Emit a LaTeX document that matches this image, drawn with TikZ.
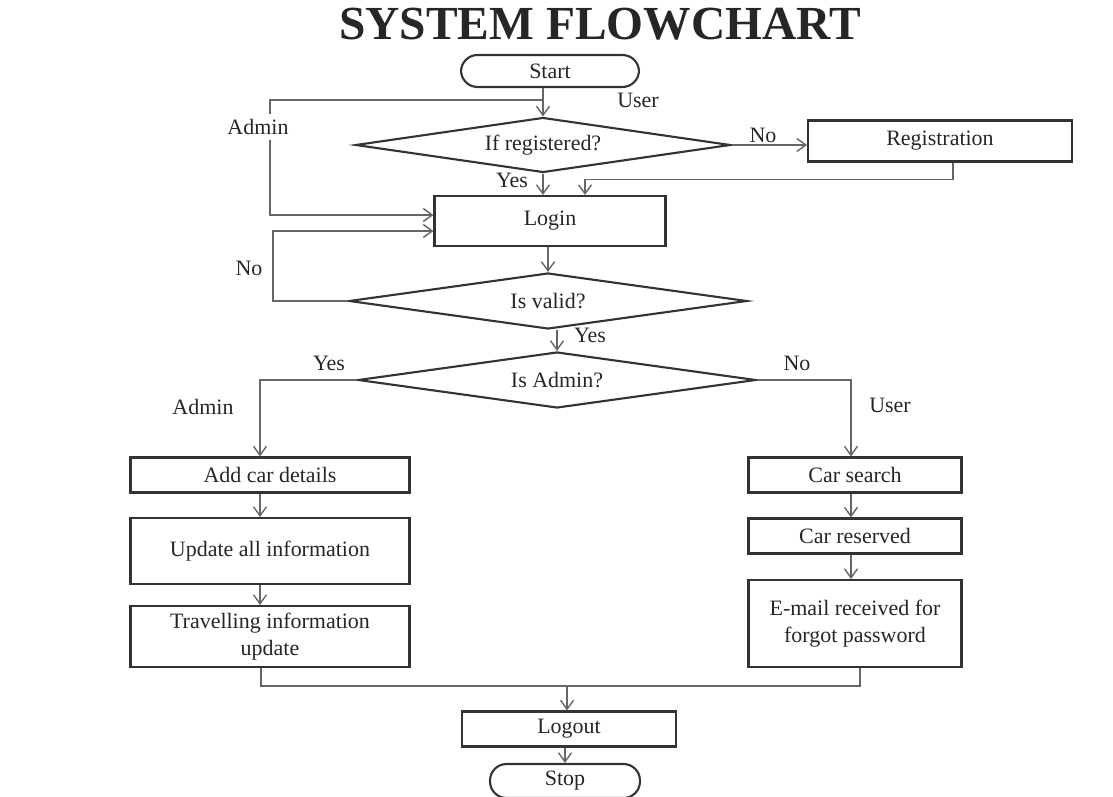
\documentclass[tikz,border=0pt]{standalone}
\usepackage{fontspec}
\setmainfont{Liberation Serif}
\usetikzlibrary{shapes.geometric,arrows.meta,calc}

\begin{document}
\begin{tikzpicture}[x=0.02cm, y=-0.02cm,
    every node/.style={font=\fontsize{12.5}{15}\selectfont, text=black!85},
    box/.style={draw=black!80, line width=1.2pt, align=center, inner sep=2pt},
    term/.style={draw=black!80, line width=1.2pt, rounded corners=0.33cm},
    decision/.style={diamond, draw=black!80, line width=1.2pt, aspect=7, inner sep=0pt,
      minimum width=7.96cm, minimum height=1.12cm},
    line/.style={draw=black!60, line width=0.8pt},
    arrow/.style={line, -{Straight Barb[length=1.8mm,width=2.6mm]}},
    lbl/.style={inner sep=0pt}]
  \useasboundingbox (0,0) rectangle (1113,797);

  \node[font=\fontsize{27}{30}\selectfont\bfseries, text=black!85] (title) at (600,24) {SYSTEM FLOWCHART};

  % main column
  \node[term, minimum width=3.56cm, minimum height=0.64cm] (start) at (550,71) {Start};
  \node[decision, minimum width=7.5cm, minimum height=1.1cm] (ifreg) at (543,145) {If registered?};
  \node[box, minimum width=5.28cm, minimum height=0.82cm] (reg) at (940,141) {Registration};
  \node[box, minimum width=4.62cm, minimum height=1cm] (login) at (550,221) {Login};
  \node[decision] (valid) at (548,301) {Is valid?};
  \node[decision] (isadmin) at (557,380) {Is Admin?};

  % admin side
  \node[box, minimum width=5.58cm, minimum height=0.7cm] (addcar) at (270,475) {Add car details};
  \node[box, minimum width=5.58cm, minimum height=1.32cm] (update) at (270,551) {Update all information};
  \node[box, minimum width=5.58cm, minimum height=1.22cm] (travel) at (270,636.5) {Travelling information\\update};

  % user side
  \node[box, minimum width=4.26cm, minimum height=0.7cm] (search) at (855,475) {Car search};
  \node[box, minimum width=4.26cm, minimum height=0.7cm] (reserved) at (855,536) {Car reserved};
  \node[box, minimum width=4.26cm, minimum height=1.74cm] (email) at (855,623.5) {E-mail received for\\forgot password};

  \node[box, minimum width=4.28cm, minimum height=0.7cm] (logout) at (569,729) {Logout};
  \node[term, minimum width=3cm, minimum height=0.68cm] (stop) at (565,781) {Stop};

  % connectors
  \coordinate (adminturn) at (270,100);
  \coordinate (noturn) at (273,301);
  \coordinate (merge) at (567,686);
  \draw[arrow] (start.south -| ifreg.north) -- (ifreg.north);
  \draw[arrow] (ifreg.north |- adminturn) -- (adminturn) |- ($(login.west)+(0,-6)$);
  \draw[arrow] (ifreg.east) -- (ifreg.east -| reg.west);
  \draw[arrow] ($(reg.south)+(13,0)$) -- ++(0,17) -| ($(login.north)+(35,0)$);
  \draw[arrow] (ifreg.south) -- (ifreg.south |- login.north);
  \draw[arrow] (valid.north |- login.south) -- (valid.north);
  \draw[arrow] (valid.west) -- (valid.west -| noturn) |- ($(login.west)+(0,10)$);
  \draw[arrow] (isadmin.north |- valid.south) -- (isadmin.north);
  \draw[arrow] (isadmin.west) -| ($(addcar.north)+(-10,0)$);
  \draw[arrow] (isadmin.east) -| ($(search.north)+(-4,0)$);
  \foreach \a/\b in {addcar/update, update/travel}
    \draw[arrow] ($(\a.south)+(-10,0)$) -- ($(\b.north)+(-10,0)$);
  \foreach \a/\b in {search/reserved, reserved/email}
    \draw[arrow] ($(\a.south)+(-4,0)$) -- ($(\b.north)+(-4,0)$);
  \draw[line] ($(travel.south)+(-9,0)$) |- (merge) -| ($(email.south)+(5,0)$);
  \draw[arrow] (merge) -- (merge |- logout.north);
  \draw[arrow] (logout.south -| stop.north) -- (stop.north);

  % labels
  \node[lbl] (luser) at (638,100) {User};
  \node[lbl, fill=white, inner sep=3pt] (ladmin) at (258,127) {Admin};
  \node[lbl] (lno) at (763,135) {No};
  \node[lbl] (lyes) at (512,180) {Yes};
  \node[lbl] (lnoloop) at (249,268) {No};
  \node[lbl] (lyesvalid) at (590,335) {Yes};
  \node[lbl] (lyesadmin) at (329,363) {Yes};
  \node[lbl] (lnoadmin) at (797,363) {No};
  \node[lbl] (ladminside) at (203,407) {Admin};
  \node[lbl] (luserside) at (890,405) {User};
\end{tikzpicture}
\end{document}
